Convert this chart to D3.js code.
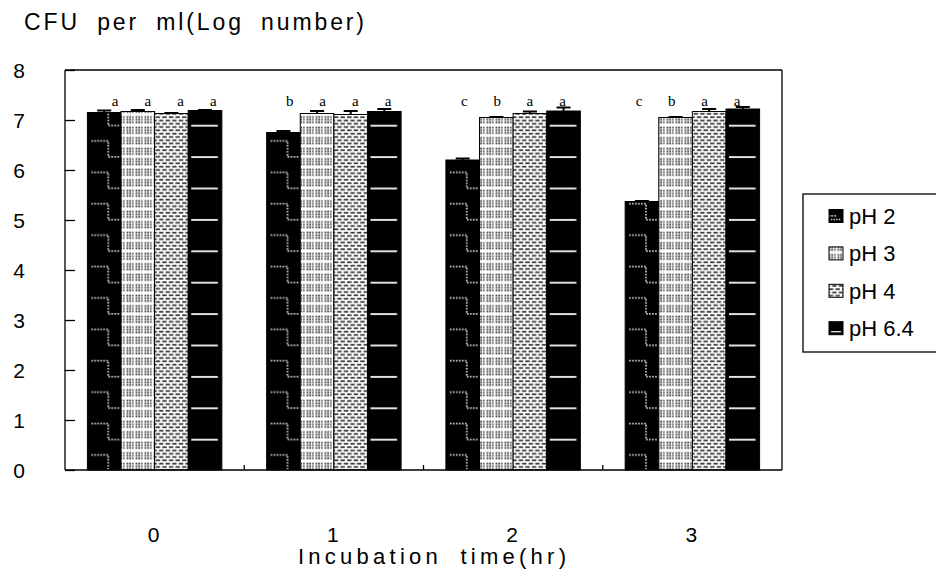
<!DOCTYPE html>
<html><head><meta charset="utf-8">
<script src="https://cdn.jsdelivr.net/npm/d3@7"></script>
<style>body{margin:0;background:#fff} svg{display:block}</style>
</head><body><svg id="chart" width="936" height="569"></svg>
<script>
// Viable counts (log CFU/ml) after incubation at different pH
const times = ["0", "1", "2", "3"];
const seriesNames = ["pH 2", "pH 3", "pH 4", "pH 6.4"];
const pH2 = [7.15, 6.75, 6.20, 5.37];
const pH3 = [7.17, 7.13, 7.05, 7.05];
const pH4 = [7.13, 7.11, 7.13, 7.17];
const pH64 = [7.19, 7.17, 7.18, 7.22];
const err2 = [0.04, 0.03, 0.03, 0.01];
const err3 = [0.03, 0.05, 0.01, 0.01];
const err4 = [0.01, 0.07, 0.04, 0.05];
const err64 = [0.01, 0.05, 0.07, 0.04];
const sig2 = ["a", "b", "c", "c"];
const sig3 = ["a", "a", "b", "b"];
const sig4 = ["a", "a", "a", "a"];
const sig64 = ["a", "a", "a", "a"];
const yTicks = [0, 1, 2, 3, 4, 5, 6, 7, 8];
const yTitle = "CFU per ml(Log number)";
const xTitle = "Incubation time(hr)";

const series = [
  { name: seriesNames[0], values: pH2, errs: err2, sig: sig2, pat: "pat2" },
  { name: seriesNames[1], values: pH3, errs: err3, sig: sig3, pat: "pat3" },
  { name: seriesNames[2], values: pH4, errs: err4, sig: sig4, pat: "pat4" },
  { name: seriesNames[3], values: pH64, errs: err64, sig: sig64, pat: "pat64" }
];

const L = 65, R = 782, T = 70, B = 470;
const FONT = "'Liberation Sans', Arial, sans-serif";
const svg = d3.select("#chart");

const x0 = d3.scaleBand().domain(times).range([L, R]).paddingInner(0.25).paddingOuter(0.125);
const x1 = d3.scaleBand().domain(seriesNames).range([0, x0.bandwidth()]);
const y = d3.scaleLinear().domain([0, 8]).range([B, T]);
// significance letters sit on a slightly narrower horizontal layer
const sx = d3.scaleLinear().domain([L, R]).range([77, 775.4]);

const bw = x1.bandwidth();
const defs = svg.append("defs");

// pH 2: black with dotted white steps
const p2 = defs.append("pattern").attr("id", "pat2").attr("patternUnits", "userSpaceOnUse")
  .attr("x", x0(times[0]) + x1(seriesNames[0])).attr("y", 262)
  .attr("width", x0.step()).attr("height", 31.4);
p2.append("rect").attr("width", x0.step()).attr("height", 31.4).attr("fill", "#000");
p2.append("path").attr("d", `M4,4.5H${bw * 0.62}V20.5H${bw - 2}`)
  .attr("fill", "none").attr("stroke", "#d0d0d0").attr("stroke-width", 1.7)
  .attr("stroke-dasharray", "1.6 1.4");

// pH 3: grey dot lattice on white
const p3 = defs.append("pattern").attr("id", "pat3").attr("patternUnits", "userSpaceOnUse")
  .attr("width", 9).attr("height", 10.5);
p3.append("rect").attr("width", 9).attr("height", 10.5).attr("fill", "#fff");
[0.5, 3.2, 5.9].forEach(px => [0.6, 3.3, 6.0].forEach(py => {
  p3.append("rect").attr("x", px).attr("y", py).attr("width", 1.9).attr("height", 1.9)
    .attr("fill", px > 5 ? "#777" : "#555");
}));

// pH 4: staggered dashes on white
const p4 = defs.append("pattern").attr("id", "pat4").attr("patternUnits", "userSpaceOnUse")
  .attr("width", 6.6).attr("height", 6.6);
p4.append("rect").attr("width", 6.6).attr("height", 6.6).attr("fill", "#fff");
p4.append("rect").attr("x", 0.6).attr("y", 0.8).attr("width", 4.4).attr("height", 1.7).attr("fill", "#333");
p4.append("rect").attr("x", 3.9).attr("y", 4.1).attr("width", 4.4).attr("height", 1.7).attr("fill", "#333");
p4.append("rect").attr("x", -2.7).attr("y", 4.1).attr("width", 4.4).attr("height", 1.7).attr("fill", "#333");

// pH 6.4: black with light horizontal rules
const p64 = defs.append("pattern").attr("id", "pat64").attr("patternUnits", "userSpaceOnUse")
  .attr("x", x0(times[0]) + x1(seriesNames[3])).attr("y", 110)
  .attr("width", x0.step()).attr("height", 31.4);
p64.append("rect").attr("width", x0.step()).attr("height", 31.4).attr("fill", "#000");
p64.append("line").attr("x1", 3).attr("x2", bw - 4).attr("y1", 15.7).attr("y2", 15.7)
  .attr("stroke", "#e2e2e2").attr("stroke-width", 2);

// frame
const frame = svg.append("g").attr("stroke", "#000").attr("stroke-width", 1.3).attr("fill", "none");
frame.append("line").attr("x1", L).attr("x2", R).attr("y1", T).attr("y2", T);
frame.append("line").attr("x1", R).attr("x2", R).attr("y1", T).attr("y2", B);

// bars, whiskers and significance letters per series
series.forEach(s => {
  const g = svg.append("g");
  g.selectAll("rect").data(times).join("rect")
    .attr("x", d => x0(d) + x1(s.name))
    .attr("y", (d, i) => y(s.values[i]))
    .attr("width", bw)
    .attr("height", (d, i) => y(0) - y(s.values[i]))
    .attr("fill", `url(#${s.pat})`)
    .attr("stroke", "#000").attr("stroke-width", 1);
  g.selectAll("path.err").data(times).join("path").attr("class", "err")
    .attr("d", (d, i) => {
      const cx = x0(d) + x1(s.name) + bw / 2;
      const y1 = y(s.values[i]), y2 = y(s.values[i] + s.errs[i]);
      return `M${cx},${y1}V${y2}M${cx - 7},${y2}H${cx + 7}`;
    })
    .attr("stroke", "#000").attr("stroke-width", 2).attr("fill", "none");
  g.selectAll("text").data(times).join("text")
    .attr("x", d => sx(x0(d) + x1(s.name) + bw / 2))
    .attr("y", 106)
    .attr("text-anchor", "middle")
    .attr("font-family", "'Liberation Serif', 'Times New Roman', serif")
    .attr("font-size", 15)
    .attr("fill", "#000")
    .text((d, i) => s.sig[i]);
});

// y axis with inward ticks
const yAxis = d3.axisRight(y).tickValues(yTicks).tickSize(10).tickFormat("");
const ya = svg.append("g").attr("transform", `translate(${L},0)`).call(yAxis);
ya.select(".domain").attr("stroke-width", 1.3).attr("d", `M0,${T}V${B}`);
ya.selectAll(".tick line").attr("stroke-width", 1.3);

svg.append("g").selectAll("text").data(yTicks).join("text")
  .attr("x", 19).attr("y", d => y(d) + 8)
  .attr("text-anchor", "middle")
  .attr("font-family", FONT)
  .attr("font-size", 21).attr("fill", "#000")
  .text(d => d);

// x axis: baseline, boundary ticks, centred labels
svg.append("line").attr("x1", L).attr("x2", R).attr("y1", B).attr("y2", B)
  .attr("stroke", "#000").attr("stroke-width", 1.3);
svg.append("g").selectAll("line").data(times.slice(1)).join("line")
  .attr("x1", d => x0(d) - x0.step() * x0.paddingInner() / 2)
  .attr("x2", d => x0(d) - x0.step() * x0.paddingInner() / 2)
  .attr("y1", B).attr("y2", B - 5)
  .attr("stroke", "#000").attr("stroke-width", 1.3);
svg.append("g").selectAll("text").data(times).join("text")
  .attr("x", d => x0(d) + x0.bandwidth() / 2 - 1).attr("y", 542)
  .attr("text-anchor", "middle")
  .attr("font-family", FONT)
  .attr("font-size", 21).attr("fill", "#000")
  .text(d => d);

// titles
svg.append("text").attr("x", 24).attr("y", 30)
  .attr("font-family", FONT)
  .attr("font-size", 23).attr("fill", "#000")
  .attr("word-spacing", 8)
  .attr("textLength", 340).attr("lengthAdjust", "spacing")
  .text(yTitle);
svg.append("text").attr("x", 298).attr("y", 564)
  .attr("font-family", FONT)
  .attr("font-size", 22).attr("fill", "#000")
  .attr("word-spacing", 8)
  .attr("textLength", 268).attr("lengthAdjust", "spacing")
  .text(xTitle);

// legend
const lg = svg.append("g");
lg.append("rect").attr("x", 803).attr("y", 194).attr("width", 140).attr("height", 158)
  .attr("fill", "#fff").attr("stroke", "#000").attr("stroke-width", 1.3);
const items = lg.selectAll("g").data(series).join("g")
  .attr("transform", (d, i) => `translate(0,${216 + i * 37.4})`);
items.append("rect").attr("x", 829).attr("y", -6.5).attr("width", 14).attr("height", 13)
  .attr("fill", d => `url(#${d.pat})`)
  .attr("stroke", "#000").attr("stroke-width", 1);
// swatch accents for the black fills
items.filter(d => d.pat === "pat2").append("line")
  .attr("x1", 831).attr("x2", 841).attr("y1", 3.5).attr("y2", 3.5)
  .attr("stroke", "#ccc").attr("stroke-width", 1.4).attr("stroke-dasharray", "1.4 1.2");
items.filter(d => d.pat === "pat64").append("line")
  .attr("x1", 831).attr("x2", 841).attr("y1", 3.5).attr("y2", 3.5)
  .attr("stroke", "#ddd").attr("stroke-width", 1.4);
items.append("text").attr("x", 849).attr("y", 8)
  .attr("font-family", FONT)
  .attr("font-size", 22).attr("fill", "#000")
  .text(d => d.name);
</script>
</body></html>
